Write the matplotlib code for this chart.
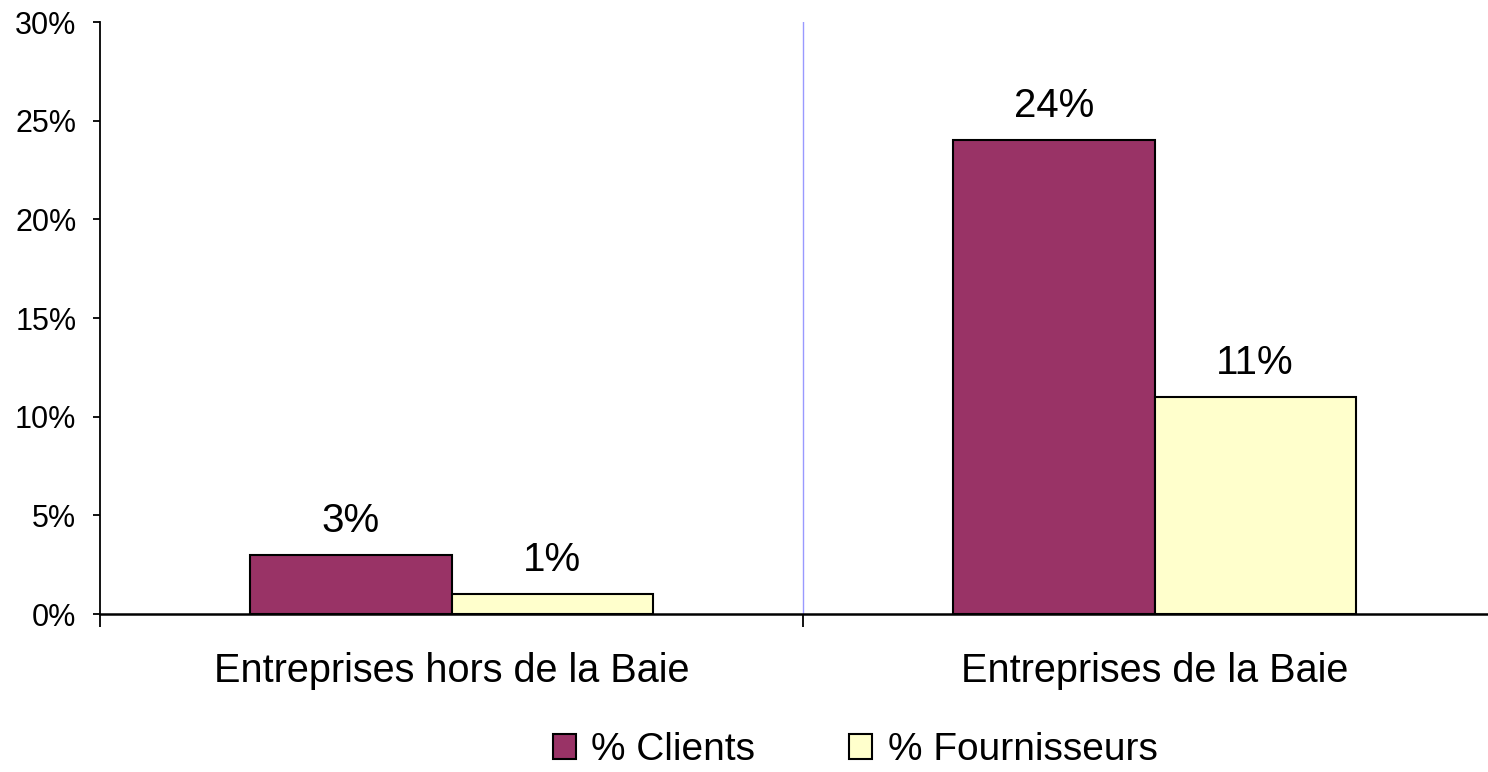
import matplotlib
matplotlib.use("Agg")
import matplotlib.pyplot as plt
import numpy as np
from matplotlib.patches import Patch

plt.rcParams['font.family'] = ['Liberation Sans', 'DejaVu Sans']

categories = ["Entreprises hors de la Baie", "Entreprises de la Baie"]
series_names = ["% Clients", "% Fournisseurs"]
clients = [3, 24]
fournisseurs = [1, 11]
colors = ["#993366", "#FFFFCC"]
yticks = [0, 5, 10, 15, 20, 25, 30]
ytick_labels = ["0%", "5%", "10%", "15%", "20%", "25%", "30%"]

W, H = 1488, 772
fig = plt.figure(figsize=(W / 100, H / 100), dpi=100)
ax = fig.add_axes([100 / W, 1 - 614 / H, 1406 / W, 592 / H])

x = np.arange(len(categories))
bw = 0.286
b1 = ax.bar(x - bw / 2, clients, bw, color=colors[0], edgecolor="black", linewidth=1.5, zorder=3)
b2 = ax.bar(x + bw / 2, fournisseurs, bw, color=colors[1], edgecolor="black", linewidth=1.5, zorder=3)

for bars, vals in ((b1, clients), (b2, fournisseurs)):
    for rect, v in zip(bars, vals):
        ax.annotate(f"{v}%", (rect.get_x() + rect.get_width() / 2, v),
                    xytext=(0, 11), textcoords="offset points",
                    ha="center", va="bottom", fontsize=29)

ax.set_xlim(-0.5, 1.5)
ax.set_ylim(0, 30)
ax.axvline(0.5, color="#9999FF", linewidth=1, zorder=1)

ax.set_yticks(yticks)
ax.set_yticklabels(ytick_labels, fontsize=22)
ax.set_xticks([-0.5, 0.5, 1.5])
ax.set_xticklabels([])
ax.set_xticks(x, minor=True)
ax.set_xticklabels(categories, minor=True, fontsize=28.5)
ax.tick_params(axis="x", which="minor", length=0, pad=27)
ax.tick_params(axis="x", which="major", length=9.5, width=1.3, direction="out")
ax.tick_params(axis="y", length=5, width=1.3, direction="out", pad=12)

for s in ("top", "right"):
    ax.spines[s].set_visible(False)
ax.spines["left"].set_linewidth(1.3)
ax.spines["bottom"].set_linewidth(1.8)

handles = [Patch(facecolor=colors[0], edgecolor="black", linewidth=1.5),
           Patch(facecolor=colors[1], edgecolor="black", linewidth=1.5)]
fig.legend(handles, series_names, loc="center", bbox_to_anchor=(855 / W, 1 - 750 / H),
           ncol=2, frameon=False, fontsize=28, handlelength=0.6, handleheight=0.6,
           handletextpad=0.4, columnspacing=2.4, borderpad=0)

fig.savefig("out.png", dpi=100)
